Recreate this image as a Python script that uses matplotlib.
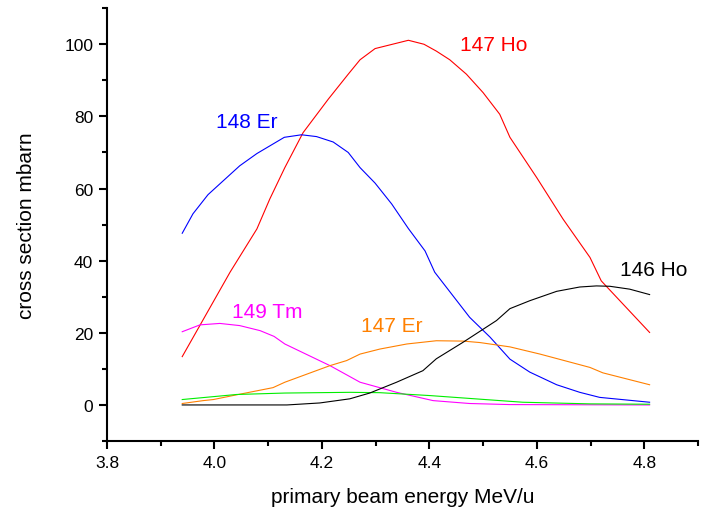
import numpy as np
import matplotlib.pyplot as plt
from matplotlib.ticker import MultipleLocator

# ------------------------------------------------------------
# data (energy in MeV/u, cross section in mbarn)
# ------------------------------------------------------------

ho147_e = [3.940, 4.029, 4.079, 4.103, 4.131, 4.165, 4.212, 4.249, 4.271, 4.299,
           4.361, 4.390, 4.413, 4.438, 4.469, 4.500, 4.531, 4.550, 4.600, 4.649,
           4.699, 4.720, 4.810]
ho147_s = [13.4, 36.8, 48.8, 57.1, 65.8, 75.5, 84.8, 91.7, 95.7, 98.8,
           101.1, 100.0, 98.1, 95.7, 91.7, 86.6, 80.6, 74.2, 63.0, 51.5,
           40.9, 34.4, 20.1]

er148_e = [3.940, 3.960, 3.988, 4.016, 4.047, 4.079, 4.130, 4.162, 4.190, 4.221,
           4.249, 4.271, 4.299, 4.330, 4.361, 4.392, 4.410, 4.475, 4.513, 4.550,
           4.587, 4.637, 4.680, 4.717, 4.810]
er148_s = [47.6, 53.0, 58.3, 62.1, 66.3, 69.7, 74.2, 74.9, 74.4, 72.9,
           70.0, 65.8, 61.5, 55.7, 48.9, 42.7, 36.8, 24.3, 18.8, 12.7,
           9.1, 5.6, 3.5, 2.1, 0.75]

tm149_e = [3.940, 3.973, 4.010, 4.047, 4.085, 4.111, 4.131, 4.215, 4.271, 4.339,
           4.407, 4.475, 4.550, 4.810]
tm149_s = [20.3, 22.2, 22.6, 22.0, 20.6, 19.0, 16.9, 10.9, 6.3, 3.5,
           1.2, 0.4, 0.1, 0.0]

er147_e = [3.940, 3.979, 3.998, 4.041, 4.109, 4.131, 4.215, 4.246, 4.271, 4.308,
           4.358, 4.413, 4.463, 4.494, 4.550, 4.606, 4.699, 4.723, 4.810]
er147_s = [0.4, 1.2, 1.5, 2.8, 4.8, 6.3, 10.9, 12.3, 14.1, 15.5,
           16.9, 17.8, 17.7, 17.3, 16.1, 14.1, 10.4, 8.9, 5.6]

green_e = [3.940, 4.041, 4.131, 4.252, 4.308, 4.401, 4.513, 4.574, 4.699, 4.810]
green_s = [1.5, 2.9, 3.3, 3.5, 3.4, 2.6, 1.4, 0.75, 0.3, 0.2]

ho146_e = [3.940, 4.047, 4.135, 4.196, 4.252, 4.289, 4.339, 4.388, 4.413, 4.463,
           4.525, 4.550, 4.587, 4.637, 4.680, 4.711, 4.736, 4.773, 4.810]
ho146_s = [0.0, 0.0, 0.0, 0.55, 1.7, 3.3, 6.3, 9.5, 12.8, 17.4,
           23.4, 26.7, 28.9, 31.5, 32.7, 33.0, 32.9, 32.1, 30.6]

# ------------------------------------------------------------
# plot
# ------------------------------------------------------------

plt.rcParams["font.family"] = ["Liberation Sans", "DejaVu Sans"]

fig = plt.figure(figsize=(7.05, 5.10), dpi=100)
ax = fig.add_axes([0.1518, 0.1333, 0.8382, 0.8487])

lw = 0.8
ax.plot(ho147_e, ho147_s, color="#ff0000", lw=lw)
ax.plot(er148_e, er148_s, color="#0000ff", lw=lw)
ax.plot(tm149_e, tm149_s, color="#ff00ff", lw=lw)
ax.plot(er147_e, er147_s, color="#ff8000", lw=lw)
ax.plot(green_e, green_s, color="#00ee00", lw=lw)
ax.plot(ho146_e, ho146_s, color="#000000", lw=lw)

fs = 15
ax.text(4.457, 99.9, "147 Ho", color="#ff0000", fontsize=fs, va="center")
ax.text(4.003, 78.5, "148 Er", color="#0000ff", fontsize=fs, va="center")
ax.text(4.032, 25.9, "149 Tm", color="#ff00ff", fontsize=fs, va="center")
ax.text(4.272, 21.9, "147 Er", color="#ff8000", fontsize=fs, va="center")
ax.text(4.754, 37.5, "146 Ho", color="#000000", fontsize=fs, va="center")

ax.set_xlim(3.8, 4.9)
ax.set_ylim(-10, 110)
ax.xaxis.set_minor_locator(MultipleLocator(0.1))
ax.yaxis.set_minor_locator(MultipleLocator(10))
ax.set_xticks([3.8, 4.0, 4.2, 4.4, 4.6, 4.8])
ax.set_xticklabels(["3.8", "4.0", "4.2", "4.4", "4.6", "4.8"])
ax.set_yticks([0, 20, 40, 60, 80, 100])

for s in ["top", "right"]:
    ax.spines[s].set_visible(False)
for s in ["left", "bottom"]:
    ax.spines[s].set_linewidth(1.5)

ax.tick_params(which="major", direction="out", length=6, width=1.5,
               labelsize=12.5, pad=4)
ax.tick_params(which="minor", direction="out", length=3.5, width=1.5)

ax.set_xlabel("primary beam energy MeV/u", fontsize=fs, labelpad=12)
ax.set_ylabel("cross section mbarn", fontsize=fs, labelpad=20)

fig.savefig("out.png", dpi=100)
